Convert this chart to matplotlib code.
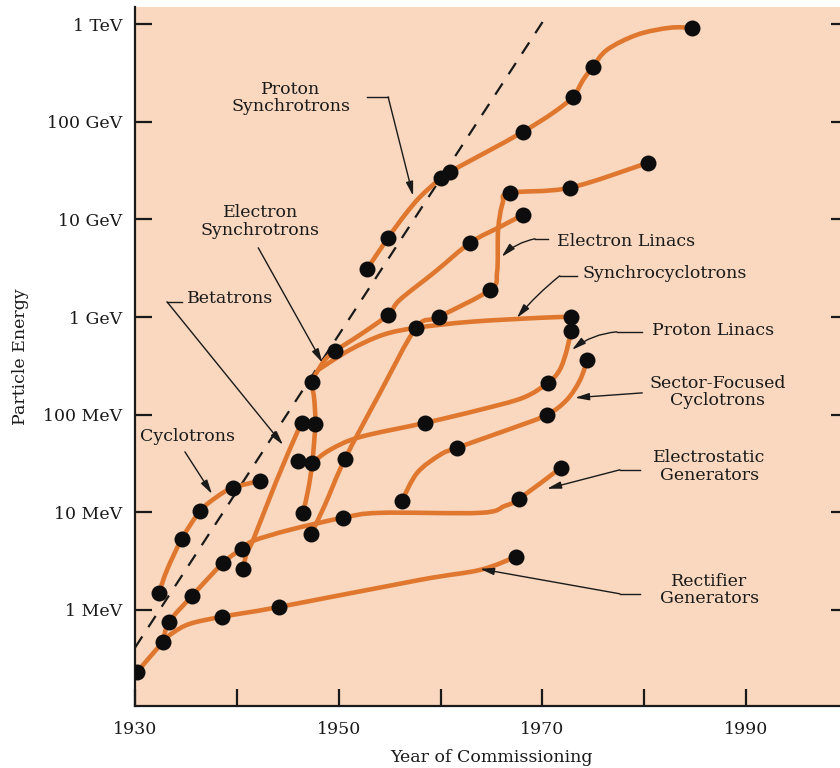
import numpy as np
import matplotlib
matplotlib.use("Agg")
import matplotlib.pyplot as plt
from matplotlib.path import Path
from matplotlib.patches import PathPatch
from matplotlib.ticker import FixedLocator, NullLocator

# ── Data: year of commissioning / particle energy (MeV) ─────────────────────
# curve vertices follow the drawn lines, *_dot_* are the individual machines

rect_year = [1930.2, 1932.75, 1933.7, 1935.4, 1938.55, 1944.15, 1958.0, 1963.9, 1967.4]
rect_mev = [0.23, 0.47, 0.58, 0.72, 0.85, 1.07, 2.03, 2.57, 3.5]
rect_dot_year = [1930.2, 1932.75, 1938.55, 1944.15, 1967.4]
rect_dot_mev = [0.23, 0.47, 0.85, 1.07, 3.5]

es_year = [1932.75, 1933.35, 1935.6, 1938.65, 1940.5, 1941.6, 1945.2, 1950.4,
           1954.05, 1963.9, 1966.3, 1967.7, 1971.8]
es_mev = [0.47, 0.75, 1.39, 3.03, 4.22, 5.09, 6.6, 8.77, 9.86, 9.86, 11.6, 13.7, 28.5]
es_dot_year = [1933.35, 1935.6, 1938.65, 1940.5, 1950.4, 1967.7, 1971.8]
es_dot_mev = [0.75, 1.39, 3.03, 4.22, 8.77, 13.7, 28.5]

cyc_year = [1932.35, 1933.15, 1934.6, 1936.4, 1938.05, 1939.6, 1942.3]
cyc_mev = [1.49, 2.57, 5.34, 10.3, 14.4, 17.8, 21.0]
cyc_dot_year = [1932.35, 1934.6, 1936.4, 1939.6, 1942.3]
cyc_dot_mev = [1.49, 5.34, 10.3, 17.8, 21.0]

bet_year = [1940.6, 1941.0, 1941.6, 1943.85, 1945.9, 1946.4]
bet_mev = [2.63, 3.93, 5.2, 20.5, 65, 82]
bet_dot_year = [1940.6, 1946.0, 1946.4]
bet_dot_mev = [2.63, 33.6, 82]

esy_year = [1946.5, 1947.0, 1947.4, 1947.7, 1947.6, 1947.4, 1948.0, 1948.65, 1949.65,
            1952.1, 1954.85, 1956.0, 1959.45, 1962.9, 1965.85, 1968.1]
esy_mev = [9.9, 17, 32, 80, 142, 217, 288, 364, 450,
           658, 1054, 1500, 2900, 5760, 8400, 11150]
esy_dot_year = [1946.5, 1947.4, 1947.7, 1947.4, 1949.65, 1954.85, 1962.9, 1968.1]
esy_dot_mev = [9.9, 32, 80, 217, 450, 1054, 5760, 11150]

sc_year = [1948.0, 1951.1, 1954.35, 1957.6, 1962.9, 1969.8, 1972.8]
sc_mev = [288, 461, 657, 775, 893, 982, 1005]
sc_dot_year = [1957.6, 1972.8]
sc_dot_mev = [775, 1005]

el_year = [1947.3, 1948.65, 1950.6, 1954.05, 1957.6, 1959.85, 1964.85, 1965.55,
           1965.65, 1966.1, 1966.8, 1972.7, 1980.35]
el_mev = [6.0, 11.9, 35, 167, 775, 1005, 1900, 2900,
          7820, 14800, 18700, 21100, 38000]
el_dot_year = [1947.3, 1950.6, 1959.85, 1964.85, 1966.8, 1972.7, 1980.35]
el_dot_mev = [6.0, 35, 1005, 1900, 18700, 21100, 38000]

pl_year = [1947.4, 1949.15, 1952.1, 1958.5, 1963.85, 1968.1, 1970.55, 1971.7, 1972.4, 1972.8]
pl_mev = [32, 43.6, 59, 82.4, 112, 149, 212, 288, 461, 722]
pl_dot_year = [1958.5, 1970.55, 1972.8]
pl_dot_mev = [82.4, 212, 722]

sf_year = [1956.2, 1957.7, 1959.95, 1961.6, 1967.1, 1970.45, 1972.4, 1973.7, 1974.4]
sf_mev = [13.1, 25.3, 38.7, 45.7, 73, 99.5, 142, 227, 364]
sf_dot_year = [1956.2, 1961.6, 1970.45, 1974.4]
sf_dot_mev = [13.1, 45.7, 99.5, 364]

ps_year = [1952.8, 1954.85, 1956.5, 1958.0, 1960.05, 1960.9, 1964.55, 1968.1, 1971.05,
           1973.0, 1974.0, 1974.95, 1976.35, 1979.3, 1982.5, 1984.7]
ps_mev = [3120, 6480, 11150, 17050, 26700, 30700, 49300, 79000, 123700,
          180400, 269000, 366000, 547000, 780000, 919000, 919000]
ps_dot_year = [1952.8, 1954.85, 1960.05, 1960.9, 1968.1, 1973.0, 1974.95, 1984.7]
ps_dot_mev = [3120, 6480, 26700, 30700, 79000, 180400, 366000, 919000]

# dashed exponential envelope
env_year = [1930.0, 1970.5]
env_mev = [0.41, 1.26e6]

y_ticks = [1, 10, 100, 1e3, 1e4, 1e5, 1e6]
y_labels = ["1 MeV", "10 MeV", "100 MeV", "1 GeV", "10 GeV", "100 GeV", "1 TeV"]
x_major = [1930, 1950, 1970, 1990]
x_minor = [1940, 1960, 1980]

CURVES = [
    (rect_year, rect_mev, rect_dot_year, rect_dot_mev),
    (es_year, es_mev, es_dot_year, es_dot_mev),
    (cyc_year, cyc_mev, cyc_dot_year, cyc_dot_mev),
    (bet_year, bet_mev, bet_dot_year, bet_dot_mev),
    (esy_year, esy_mev, esy_dot_year, esy_dot_mev),
    (sc_year, sc_mev, sc_dot_year, sc_dot_mev),
    (el_year, el_mev, el_dot_year, el_dot_mev),
    (pl_year, pl_mev, pl_dot_year, pl_dot_mev),
    (sf_year, sf_mev, sf_dot_year, sf_dot_mev),
    (ps_year, ps_mev, ps_dot_year, ps_dot_mev),
]

# ── Style ───────────────────────────────────────────────────────────────────
PEACH = "#F9D8BF"
ORANGE = "#E0772F"
INK = "#1a1a1a"
plt.rcParams["font.family"] = ["DejaVu Serif"]
FS = 12.5


def smooth_path(years, mev):
    """Cubic Bezier path through the vertices (Catmull-Rom tangents, log-energy space)."""
    p = np.column_stack([years, np.log10(mev)])
    ext = np.vstack([p[0], p, p[-1]])
    verts, codes = [p[0]], [Path.MOVETO]
    for i in range(len(p) - 1):
        a, b, c, d = ext[i], ext[i + 1], ext[i + 2], ext[i + 3]
        verts += [b + (c - a) / 6.0, c - (d - b) / 6.0, c]
        codes += [Path.CURVE4] * 3
    verts = np.array(verts)
    verts[:, 1] = 10 ** verts[:, 1]
    return Path(verts, codes)


fig = plt.figure(figsize=(8.4, 7.68), dpi=100, facecolor="white")
ax = fig.add_axes([135 / 840, 62 / 768, 713 / 840, 699 / 768])
ax.set_facecolor(PEACH)
ax.set_yscale("log")
ax.set_xlim(1930, 2000)
ax.set_ylim(0.1035, 1.5e6)

for s in ("top", "right"):
    ax.spines[s].set_visible(False)
for s in ("left", "bottom"):
    ax.spines[s].set_linewidth(1.6)
    ax.spines[s].set_color(INK)

# envelope
ax.plot(env_year, env_mev, color=INK, lw=1.6, dashes=(6, 5), zorder=2)

# accelerator curves + machines
for yr, mev, dyr, dmev in CURVES:
    ax.add_patch(PathPatch(smooth_path(yr, mev), fill=False, edgecolor=ORANGE,
                           lw=3.3, joinstyle="round", capstyle="round", zorder=3))
    ax.plot(dyr, dmev, "o", color="#0d0d0d", ms=11.5, mec="none", zorder=4)

# ── Ticks ───────────────────────────────────────────────────────────────────
ax.yaxis.set_major_locator(FixedLocator(y_ticks))
ax.yaxis.set_minor_locator(NullLocator())
ax.set_yticklabels(y_labels)
ax.xaxis.set_major_locator(FixedLocator(x_major))
ax.xaxis.set_minor_locator(FixedLocator(x_minor))
ax.set_xticklabels([str(v) for v in x_major])
ax.tick_params(which="both", direction="in", length=12.5, width=1.6, color=INK,
               labelsize=FS, labelcolor=INK)
ax.tick_params(axis="y", right=True, pad=9)
ax.tick_params(axis="x", pad=11)

ax.set_xlabel("Year of Commissioning", fontsize=FS, color=INK, labelpad=8)
ax.set_ylabel("Particle Energy", fontsize=FS, color=INK, labelpad=10)

# ── Labels and leader lines ─────────────────────────────────────────────────
ARROW = dict(arrowstyle="-|>,head_length=0.7,head_width=0.18", color=INK,
             lw=1.0, shrinkA=0, shrinkB=0, mutation_scale=12)
LEAD = dict(color=INK, lw=1.0, zorder=5)


def label(x, y, text, ha="center"):
    ax.text(x, y, text, fontsize=FS, color=INK, ha=ha, va="center",
            linespacing=1.05, zorder=6)


def leader(p_text, p_elbow, p_tip, rad=0.0):
    ax.plot([p_text[0], p_elbow[0]], [p_text[1], p_elbow[1]], **LEAD)
    ax.annotate("", xy=p_tip, xytext=p_elbow,
                arrowprops=dict(ARROW, connectionstyle=f"arc3,rad={rad}"), zorder=5)


label(1945.3, 1.76e5, "Proton\nSynchrotrons")
leader((1952.8, 1.8e5), (1954.85, 1.8e5), (1957.3, 1.745e4))

label(1942.3, 9450, "Electron\nSynchrotrons")
ax.annotate("", xy=(1948.4, 340), xytext=(1942.1, 5120), arrowprops=ARROW, zorder=5)

label(1935.1, 1538, "Betatrons", ha="left")
leader((1934.6, 1432), (1933.14, 1432), (1944.53, 49))

label(1935.2, 59.3, "Cyclotrons")
ax.annotate("", xy=(1937.56, 15.4), xytext=(1934.9, 41.6), arrowprops=ARROW, zorder=5)

label(1971.43, 5895, "Electron Linacs", ha="left")
leader((1970.55, 6330), (1969.27, 6330), (1966.0, 4140), rad=0.15)

label(1973.98, 2770, "Synchrocyclotrons", ha="left")
leader((1973.4, 2643), (1971.7, 2643), (1967.5, 981), rad=0.05)

label(1980.76, 722, "Proton Linacs", ha="left")
leader((1979.8, 705), (1977.3, 705), (1972.9, 461), rad=0.15)

label(1987.2, 171, "Sector-Focused\nCyclotrons")
ax.annotate("", xy=(1973.2, 149), xytext=(1979.8, 167), arrowprops=ARROW, zorder=5)

label(1986.4, 29.2, "Electrostatic\nGenerators")
leader((1979.6, 27.2), (1977.6, 27.2), (1970.45, 17.4))

label(1986.4, 1.6, "Rectifier\nGenerators")
leader((1979.6, 1.46), (1977.6, 1.46), (1963.87, 2.63))

fig.savefig("out.png", dpi=100, facecolor="white")
